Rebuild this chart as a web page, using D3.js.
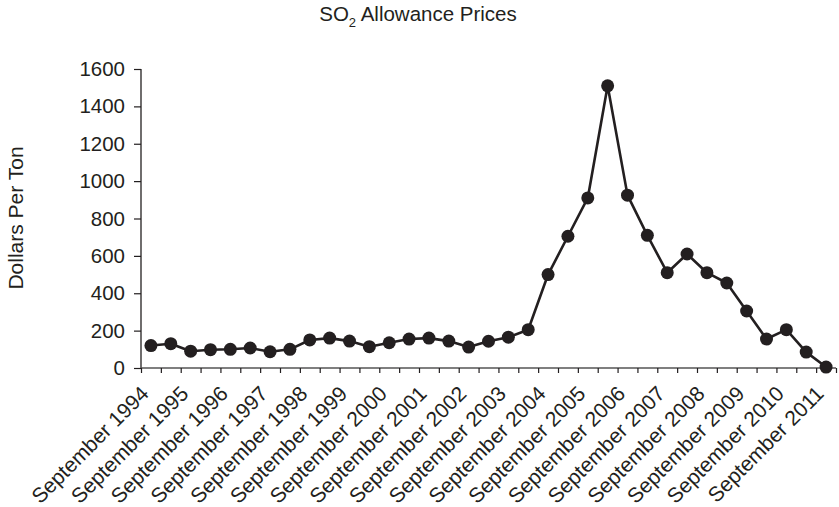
<!DOCTYPE html>
<html>
<head>
<meta charset="utf-8">
<script src="https://cdn.jsdelivr.net/npm/d3@7"></script>
<style>
  html, body { margin: 0; padding: 0; background: #fff; }
  svg { display: block; font-family: "Liberation Sans", Arial, Helvetica, sans-serif; }
</style>
</head>
<body>
<svg id="chart" width="839" height="507"></svg>
<script>
// Semiannual observation periods
const periods = [
  "Sep 1994","Mar 1995","Sep 1995","Mar 1996","Sep 1996","Mar 1997","Sep 1997","Mar 1998",
  "Sep 1998","Mar 1999","Sep 1999","Mar 2000","Sep 2000","Mar 2001","Sep 2001","Mar 2002",
  "Sep 2002","Mar 2003","Sep 2003","Mar 2004","Sep 2004","Mar 2005","Sep 2005","Mar 2006",
  "Sep 2006","Mar 2007","Sep 2007","Mar 2008","Sep 2008","Mar 2009","Sep 2009","Mar 2010",
  "Sep 2010","Mar 2011","Sep 2011"
];
// SO2 allowance price, dollars per ton
const prices = [
  120, 130, 90, 98, 100, 107, 87, 100,
  150, 160, 144, 114, 135, 155, 160, 144,
  112, 143, 165, 205, 500, 705, 910, 1510,
  925, 710, 510, 610, 510, 455, 305, 155,
  205, 85, 5
];
// Axis labels shown under the x axis (every September)
const xTickLabels = [
  "September 1994","September 1995","September 1996","September 1997","September 1998",
  "September 1999","September 2000","September 2001","September 2002","September 2003",
  "September 2004","September 2005","September 2006","September 2007","September 2008",
  "September 2009","September 2010","September 2011"
];
const xTickPeriods = [
  "Sep 1994","Sep 1995","Sep 1996","Sep 1997","Sep 1998","Sep 1999","Sep 2000","Sep 2001",
  "Sep 2002","Sep 2003","Sep 2004","Sep 2005","Sep 2006","Sep 2007","Sep 2008","Sep 2009",
  "Sep 2010","Sep 2011"
];
const yTicks = [0, 200, 400, 600, 800, 1000, 1200, 1400, 1600];

const ink = "#231f20";
const svg = d3.select("#chart");

const mLeft = 141, mRight = 836, mTop = 69, mBottom = 368;

const x = d3.scaleBand().domain(periods).range([mLeft, mRight]).padding(0);
const xEdges = d3.scaleLinear().domain([0, periods.length]).range([mLeft, mRight]);
const y = d3.scaleLinear().domain([0, 1600]).range([mBottom, mTop]);

// Title
const title = svg.append("text")
  .attr("x", 418).attr("y", 21)
  .attr("text-anchor", "middle")
  .attr("font-size", 20.5)
  .attr("fill", ink);
title.append("tspan").text("SO");
title.append("tspan").attr("font-size", 13).attr("dy", 6).text("2");
title.append("tspan").attr("dy", -6).text(" Allowance Prices");

// Y axis label
svg.append("text")
  .attr("transform", "translate(23,218) rotate(-90)")
  .attr("text-anchor", "middle")
  .attr("font-size", 21)
  .attr("fill", ink)
  .text("Dollars Per Ton");

// Y axis
const yAxis = svg.append("g")
  .attr("transform", `translate(${mLeft},0)`)
  .call(d3.axisLeft(y).tickValues(yTicks).tickSize(7).tickPadding(9).tickFormat(d3.format("d")));
yAxis.select(".domain").attr("stroke", ink).attr("stroke-width", 1.3).attr("d", `M0,${mTop}V${mBottom}`);
yAxis.selectAll(".tick line").attr("stroke", ink).attr("stroke-width", 1.2);
yAxis.selectAll(".tick text")
  .attr("font-size", 20.5).attr("font-family", "Liberation Sans, Arial, sans-serif")
  .attr("fill", ink);

// X axis (ticks at category boundaries)
const xAxis = svg.append("g")
  .attr("transform", `translate(0,${mBottom})`)
  .call(d3.axisBottom(xEdges).tickValues(d3.range(periods.length + 1)).tickSize(5).tickFormat(""));
xAxis.select(".domain").attr("stroke", "#555").attr("stroke-width", 1.3).attr("d", `M${mLeft},0H${mRight}`);
xAxis.selectAll(".tick line").attr("stroke", ink).attr("stroke-width", 1.2);

// X tick labels, rotated
svg.append("g").selectAll("text")
  .data(xTickLabels)
  .join("text")
  .attr("transform", (d, i) => `translate(${x(xTickPeriods[i]) + x.bandwidth() / 2 - 1},395) rotate(-45)`)
  .attr("text-anchor", "end")
  .attr("font-size", 21)
  .attr("fill", ink)
  .text(d => d);

// Line
const line = d3.line()
  .x((d, i) => x(periods[i]) + x.bandwidth() / 2)
  .y(d => y(d));
svg.append("path")
  .datum(prices)
  .attr("d", line)
  .attr("fill", "none")
  .attr("stroke", ink)
  .attr("stroke-width", 2.6)
  .attr("stroke-linejoin", "round");

// Markers
svg.append("g").selectAll("circle")
  .data(prices)
  .join("circle")
  .attr("cx", (d, i) => x(periods[i]) + x.bandwidth() / 2)
  .attr("cy", d => y(d))
  .attr("r", 6.5)
  .attr("fill", ink);
</script>
</body>
</html>
